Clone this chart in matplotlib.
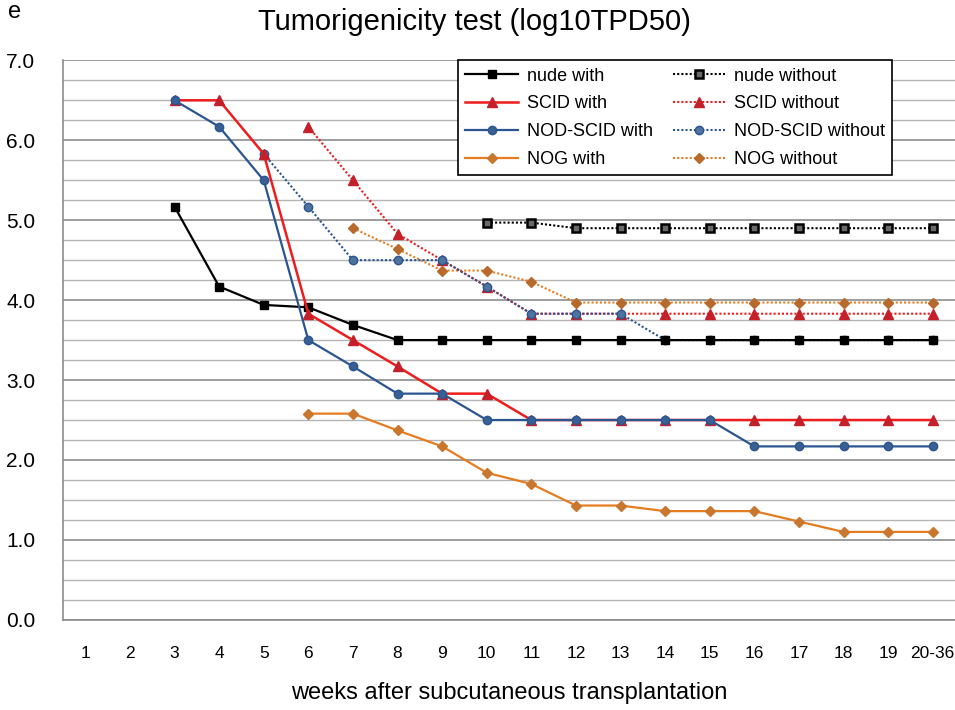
import numpy as np
import matplotlib
matplotlib.use("Agg")
import matplotlib.pyplot as plt

plt.rcParams['font.family'] = ['Liberation Sans', 'DejaVu Sans']

# x categories (weeks after transplantation)
weeks = ['1', '2', '3', '4', '5', '6', '7', '8', '9', '10',
         '11', '12', '13', '14', '15', '16', '17', '18', '19', '20-36']

nan = np.nan
# "with" series
nude_with = [nan, nan, 5.17, 4.17, 3.94, 3.91, 3.69, 3.5, 3.5, 3.5,
             3.5, 3.5, 3.5, 3.5, 3.5, 3.5, 3.5, 3.5, 3.5, 3.5]
scid_with = [nan, nan, 6.5, 6.5, 5.83, 3.83, 3.5, 3.17, 2.83, 2.83,
             2.5, 2.5, 2.5, 2.5, 2.5, 2.5, 2.5, 2.5, 2.5, 2.5]
nodscid_with = [nan, nan, 6.5, 6.17, 5.5, 3.5, 3.17, 2.83, 2.83, 2.5,
                2.5, 2.5, 2.5, 2.5, 2.5, 2.17, 2.17, 2.17, 2.17, 2.17]
nog_with = [nan, nan, nan, nan, nan, 2.58, 2.58, 2.37, 2.17, 1.84,
            1.7, 1.43, 1.43, 1.36, 1.36, 1.36, 1.23, 1.1, 1.1, 1.1]

# "without" series
nude_without = [nan, nan, nan, nan, nan, nan, nan, nan, nan, 4.97,
                4.97, 4.9, 4.9, 4.9, 4.9, 4.9, 4.9, 4.9, 4.9, 4.9]
scid_without = [nan, nan, nan, nan, nan, 6.17, 5.5, 4.83, 4.5, 4.17,
                3.83, 3.83, 3.83, 3.83, 3.83, 3.83, 3.83, 3.83, 3.83, 3.83]
nodscid_without = [nan, nan, nan, nan, 5.83, 5.17, 4.5, 4.5, 4.5, 4.17,
                   3.83, 3.83, 3.83, 3.5, 3.5, 3.5, 3.5, 3.5, 3.5, 3.5]
nog_without = [nan, nan, nan, nan, nan, nan, 4.9, 4.64, 4.37, 4.37,
               4.23, 3.97, 3.97, 3.97, 3.97, 3.97, 3.97, 3.97, 3.97, 3.97]

x = np.arange(1, len(weeks) + 1)

fig = plt.figure(figsize=(9.55, 7.1), dpi=100)
ax = fig.add_axes([0.066, 0.127, 0.934, 0.788])

# horizontal grid
for v in np.arange(0, 7.01, 0.25):
    major = abs(v - round(v)) < 1e-6
    ax.axhline(v, color='#8c8c8c' if major else '#b4b4b4',
               lw=1.2 if major else 1.0, zorder=0)

black = '#000000'
red = '#ee1c1c'
red_dark = '#c4202a'
blue = '#2b5590'
blue_m = '#3a5f92'
orange = '#e57c1f'
orange_m = '#c9762e'
brown_m = '#b86a2c'

ms = 6
ax.plot(x, nude_without, ls=(0, (1, 1)), color=black, lw=1.5, marker='s', ms=ms,
        mfc='#6a6a6a', mec=black, mew=1.8, label='nude without', zorder=3)
ax.plot(x, nog_without, ls=(0, (1, 1)), color=orange, lw=1.5, marker='D', ms=5.5,
        mfc=brown_m, mec=brown_m, label='NOG without', zorder=3)
ax.plot(x, scid_without, ls=(0, (1, 1)), color=red, lw=1.5, marker='^', ms=7,
        mfc=red_dark, mec=red_dark, label='SCID without', zorder=3)
ax.plot(x, nodscid_without, ls=(0, (1, 1)), color=blue, lw=1.5, marker='o', ms=ms,
        mfc='#50729e', mec=blue, label='NOD-SCID without', zorder=3)

ax.plot(x, nog_with, color=orange, lw=1.6, marker='D', ms=5.5,
        mfc=orange_m, mec=orange_m, label='NOG with', zorder=4)
ax.plot(x, nude_with, color=black, lw=1.6, marker='s', ms=ms,
        mfc=black, mec=black, label='nude with', zorder=4)
ax.plot(x, scid_with, color=red, lw=1.8, marker='^', ms=7,
        mfc=red_dark, mec=red_dark, label='SCID with', zorder=4)
ax.plot(x, nodscid_with, color=blue, lw=1.6, marker='o', ms=ms,
        mfc=blue_m, mec=blue, label='NOD-SCID with', zorder=5)

ax.set_xlim(0.5, len(weeks) + 0.5)
ax.set_ylim(0, 7.0)
ax.set_xticks(x)
ax.set_xticklabels(weeks, fontsize=12.5)
ax.set_yticks(np.arange(0, 7.01, 1.0))
ax.set_yticklabels([f'{v:.1f}' for v in np.arange(0, 7.01, 1.0)], fontsize=15)
ax.tick_params(axis='both', length=0)
ax.tick_params(axis='x', pad=19)
ax.tick_params(axis='y', pad=20)

for side in ['top', 'right']:
    ax.spines[side].set_visible(False)
ax.spines['left'].set_color('#8c8c8c')
ax.spines['bottom'].set_color('#8c8c8c')
ax.spines['left'].set_linewidth(1.2)
ax.spines['bottom'].set_linewidth(1.2)
ax.set_facecolor('white')

ax.set_xlabel('weeks after subcutaneous transplantation', fontsize=17, labelpad=15)

# legend in two columns, "with" left and "without" right
handles, labels = ax.get_legend_handles_labels()
order = ['nude with', 'SCID with', 'NOD-SCID with', 'NOG with',
         'nude without', 'SCID without', 'NOD-SCID without', 'NOG without']
hmap = dict(zip(labels, handles))
leg = ax.legend([hmap[k] for k in order], order, ncol=2, loc='upper left',
                bbox_to_anchor=(0.443, 1.0), borderaxespad=0, fontsize=13,
                frameon=True, fancybox=False, edgecolor='black', framealpha=1,
                handlelength=2.9, columnspacing=1.1, labelspacing=0.6,
                borderpad=0.4, handletextpad=0.5)
leg.get_frame().set_linewidth(1.2)
leg.set_zorder(10)

fig.text(0.497, 0.969, 'Tumorigenicity test (log10TPD50)', fontsize=21,
         ha='center', va='center')
fig.text(0.008, 0.983, 'e', fontsize=17, ha='left', va='center')

fig.savefig('out.png', dpi=100, facecolor='white')
